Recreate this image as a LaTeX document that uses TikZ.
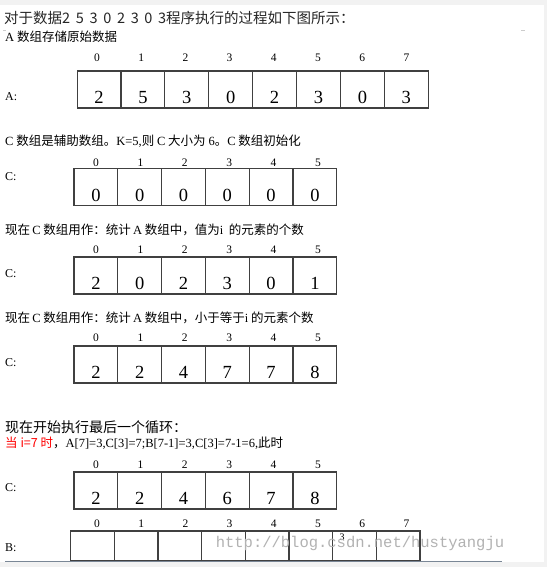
\documentclass[tikz,border=0pt]{standalone}
\usepackage{fontspec}
\setmainfont{Liberation Serif}
\newfontfamily\cjk{Noto Sans CJK SC}
\newfontfamily\wmfont{Liberation Mono}
\newcommand\ltn[1]{{\rmfamily #1}}
\definecolor{panel}{HTML}{F2F2F2}
\definecolor{boxgray}{HTML}{404040}
\definecolor{rulegray}{HTML}{7A8796}

\begin{document}
\begin{tikzpicture}[x=1pt,y=-1pt]
\tikzstyle{cell}=[draw=boxgray, line width=1.1pt, minimum width=43.8pt, minimum height=37pt, inner sep=0pt]
\tikzstyle{bcell}=[draw=boxgray, line width=1.1pt, minimum width=43.7pt, minimum height=30pt, inner sep=0pt]
\tikzstyle{val}=[anchor=base, inner sep=0pt, font=\fontsize{18.5}{18.5}\selectfont]
\tikzstyle{idx}=[inner sep=0pt, font=\fontsize{11.5}{11.5}\selectfont]
\tikzstyle{lbl}=[anchor=west, inner sep=0pt, font=\fontsize{12}{12}\selectfont]
\tikzstyle{line}=[anchor=west, inner sep=0pt, font=\cjk\fontsize{12.5}{12.5}\selectfont]
\useasboundingbox (0,0) rectangle (547,567);
\fill[panel] (0,0) rectangle (547,567);
\fill[white] (0,5) rectangle (544,562);
\draw[gray!40] (3,30) -- (6,30);
\draw[gray!40] (521,30) -- (525,30);

% texts
\node[line] (t1) at (4,18) {\color{black!85}\fontsize{14.5}{14.5}\selectfont 对于数据2\, 5\, 3\, 0\, 2\, 3\, 0\, 3程序执行的过程如下图所示：};
\node[line] (t2) at (5,37) {\ltn{A} 数组存储原始数据};
\node[line] (t3) at (5,141) {\ltn{C} 数组是辅助数组。\ltn{K=5,}则 \ltn{C} 大小为 \ltn{6}。\ltn{C} 数组初始化};
\node[line] (t4) at (5,230) {现在\,\ltn{C} 数组用作：统计\,\ltn{A} 数组中，值为\ltn{i}\ \ 的元素的个数};
\node[line] (t5) at (5,318) {现在\,\ltn{C} 数组用作：统计\,\ltn{A} 数组中，小于等于\ltn{i} 的元素个数};
\node[line] (t6) at (5,427) {\fontsize{14}{14}\selectfont 现在开始执行最后一个循环：};
\node[line] (t7) at (5,443) {{\color{red}当 i=7 时}，\ltn{A[7]=3,C[3]=7;B[7-1]=3,C[3]=7-1=6,}此时};

\node[lbl] (la) at (5,97) {A:};
\node[lbl] (lc1) at (5,177) {C:};
\node[lbl] (lc2) at (5,274) {C:};
\node[lbl] (lc3) at (5,363) {C:};
\node[lbl] (lc4) at (5,488) {C:};
\node[lbl] (lb) at (5,548) {B:};

% array A
\foreach \v [count=\i from 0] in {2,5,3,0,2,3,0,3} {
  \node[cell] (a-\i) at (99+43.9*\i,89.5) {};
  \node[val] (av-\i) at (99+43.9*\i,103) {\v};
  \node[idx] (ai-\i) at (97+44.2*\i,58) {\i};
}

% array C, four states
\foreach \v [count=\i from 0] in {0,0,0,0,0,0} {
  \node[cell] (c1-\i) at (95.9+43.8*\i,187) {};
  \node[val] (c1v-\i) at (95.9+43.8*\i,201) {\v};
  \node[idx] (c1i-\i) at (96+44.4*\i,163) {\i};
}
\foreach \v [count=\i from 0] in {2,0,2,3,0,1} {
  \node[cell] (c2-\i) at (95.9+43.8*\i,275.5) {};
  \node[val] (c2v-\i) at (95.9+43.8*\i,289) {\v};
  \node[idx] (c2i-\i) at (96+44.4*\i,250) {\i};
}
\foreach \v [count=\i from 0] in {2,2,4,7,7,8} {
  \node[cell] (c3-\i) at (95.9+43.8*\i,364.5) {};
  \node[val] (c3v-\i) at (95.9+43.8*\i,378) {\v};
  \node[idx] (c3i-\i) at (96+44.4*\i,338) {\i};
}
\foreach \v [count=\i from 0] in {2,2,4,6,7,8} {
  \node[cell] (c4-\i) at (95.9+43.8*\i,490.5) {};
  \node[val] (c4v-\i) at (95.9+43.8*\i,504) {\v};
  \node[idx] (c4i-\i) at (96+44.4*\i,465) {\i};
}

% array B
\foreach \i in {0,...,7} {
  \node[bcell] (b-\i) at (92.5+43.66*\i,546) {};
  \node[idx] (bi-\i) at (97+44.2*\i,524) {\i};
}
\node[idx, font=\fontsize{10}{10}\selectfont] (bv-6) at (342,537) {3};
\node[inner sep=0pt, text=black!30, font=\wmfont\fontsize{15.5}{15.5}\selectfont] (wm) at (360,543) {http://blog.csdn.net/hustyangju};
\draw[rulegray, line width=1pt] (5,561) -- (502,561);
\end{tikzpicture}
\end{document}
